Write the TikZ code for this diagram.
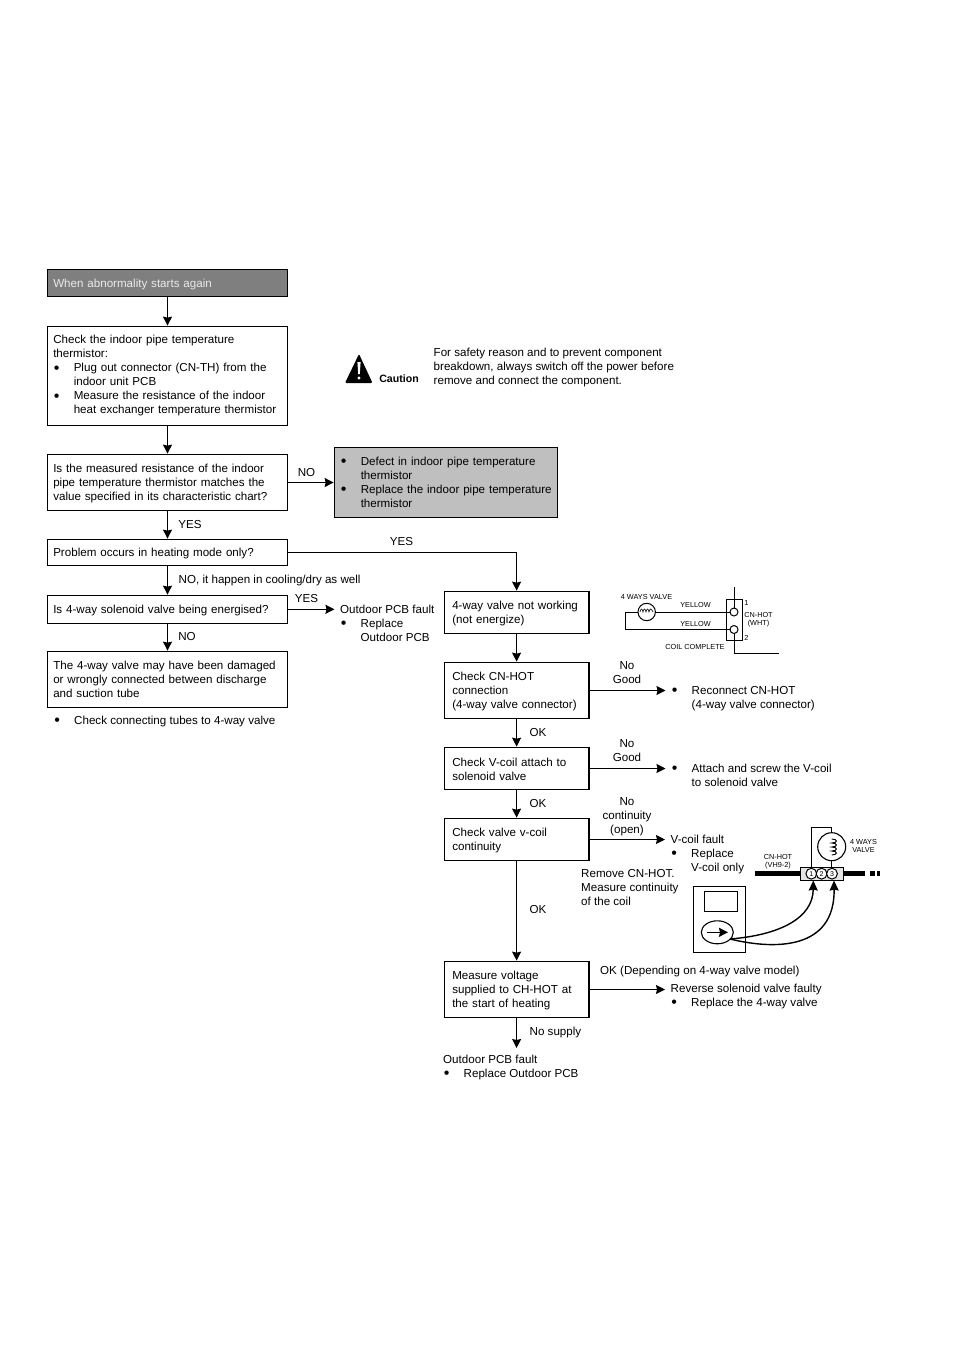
\documentclass[tikz,border=0pt]{standalone}
\usepackage{fontspec}
\setmainfont{Liberation Sans}
\usetikzlibrary{arrows.meta}
\newcommand{\mainf}{\fontsize{11.6}{14}\selectfont}
\newcommand{\bl}{\makebox[20.5pt][l]{\hspace*{0.6pt}\smash{\raisebox{-1.2pt}{\fontsize{16}{14}\selectfont\textbullet}}}}
\newcommand{\ind}{\hspace*{20.5pt}}
\newcommand{\su}{\rule{0pt}{10.4pt}}
\def\bxsep{6}
\newcommand{\bx}[7]{%
  \pgfmathsetlengthmacro{\bxw}{#4-#2-0.5}%
  \pgfmathsetlengthmacro{\bxh}{#5-#3-0.5}%
  \pgfmathsetlengthmacro{\bxt}{#4-#2-0.5-2*\bxsep}%
  \pgfmathsetmacro{\bxcx}{(#2+#4)/2}%
  \pgfmathsetmacro{\bxcy}{(#3+#5)/2}%
  \node[#6,minimum width=\bxw,minimum height=\bxh,inner xsep=\bxsep pt,text width=\bxt] (#1) at (\bxcx,\bxcy) {#7};}
\tikzset{
  fbox/.style={draw=black,line width=1.2pt,align=left,inner ysep=0pt,font=\mainf,fill=white},
  darkbox/.style={fbox,fill=graydark,text=white!92!black},
  lightbox/.style={fbox,fill=graylight},
  note/.style={inner sep=0pt,align=left,anchor=west,font=\mainf},
  lbl/.style={inner sep=0pt,align=center,font=\mainf},
  arr/.style={line width=1.2pt,-{Stealth[length=9pt,width=9pt,inset=1pt]}},
  arrn/.style={arr,shorten >=5.5pt},
  wire/.style={line width=1pt},
  tiny/.style={inner sep=0pt,align=center,font=\fontsize{7.3}{8}\selectfont},
}
\definecolor{graydark}{HTML}{7F7F7F}
\definecolor{graylight}{HTML}{BFBFBF}
\begin{document}
\begin{tikzpicture}[x=1pt,y=-1pt]
\useasboundingbox (0,0) rectangle (954,1350);
\bx{a0}{47}{269}{288}{297}{darkbox}{\su When abnormality starts again}
\bx{a1}{47}{326}{288}{426}{fbox}{Check the indoor pipe temperature\\thermistor:\\\bl Plug out connector (CN-TH) from the\\\ind indoor unit PCB\\\bl Measure the resistance of the indoor\\\ind heat exchanger temperature thermistor\rule[-2.6pt]{0pt}{0pt}}
\bx{a2}{47}{454}{288}{511}{fbox}{\su Is the measured resistance of the indoor\\pipe temperature thermistor matches the\\value specified in its characteristic chart?}
\bx{a3}{334}{447}{558}{518}{lightbox}{\bl Defect in indoor pipe temperature\\\ind thermistor\\\bl Replace the indoor pipe temperature\\\ind thermistor}
\bx{a4}{47}{539}{288}{566}{fbox}{\su Problem occurs in heating mode only?}
\bx{a5}{47}{595}{288}{623.6}{fbox}{\su Is 4-way solenoid valve being energised?}
\bx{a6}{47}{651}{288}{708}{fbox}{The 4-way valve may have been damaged\\or wrongly connected between discharge\\and suction tube}
\def\bxsep{8}
\bx{r1}{444}{591}{589.2}{634}{fbox}{\su 4-way valve not working\\(not energize)}
\bx{r2}{444}{662}{589.2}{719}{fbox}{\su Check CN-HOT\\connection\\(4-way valve connector)}
\bx{r3}{444}{747}{589.2}{790}{fbox}{\su Check V-coil attach to\\solenoid valve}
\bx{r4}{444}{818}{589.2}{861}{fbox}{\su Check valve v-coil\\continuity}
\bx{r5}{444}{961}{589.2}{1018}{fbox}{\su Measure voltage\\supplied to CH-HOT at\\the start of heating}

\node[note] (n0) at (433.5,367) {For safety reason and to prevent component\\breakdown, always switch off the power before\\remove and connect the component.};
\node[note] (n1) at (53.5,721) {\bl Check connecting tubes to 4-way valve};
\node[note] (t1) at (340,623) {Outdoor PCB fault\\\bl Replace\\\ind Outdoor PCB};
\node[note] (t2) at (671,698.5) {\bl Reconnect CN-HOT\\\ind (4-way valve connector)};
\node[note] (t3) at (671,775) {\bl Attach and screw the V-coil\\\ind to solenoid valve};
\node[note] (t4) at (670.5,854) {V-coil fault\\\bl Replace\\\ind V-coil only};
\node[note] (t5) at (670.5,996) {Reverse solenoid valve faulty\\\bl Replace the 4-way valve};
\node[note,anchor=north west] (t6) at (443,1055) {Outdoor PCB fault\\\bl Replace Outdoor PCB};
\node[note] (t7) at (581,887) {Remove CN-HOT.\\Measure continuity\\of the coil};

\draw[arr] (a0) -- (a1);
\draw[arr] (a1) -- (a2);
\draw[arr] (a2) -- (a3);
\draw[arr] (a2) -- (a4);
\draw[arr] (a4) -- (a5);
\draw[arr] (a5) -- (a6);
\draw[arr] (a4.east) -| (r1.north);
\draw[arr] (r1) -- (r2);
\draw[arr] (r2) -- (r3);
\draw[arr] (r3) -- (r4);
\draw[arr] (r4) -- (r5);
\draw[arrn] (a5.east) -- (a5.east -| t1.west);
\draw[arrn] (r2.east) -- (r2.east -| t2.west);
\draw[arrn] (r3.east) -- (r3.east -| t3.west);
\draw[arrn] (r4.east) -- (r4.east -| t4.west);
\draw[arrn] (r5.east) -- (r5.east -| t5.west);
\draw[arr,shorten >=7pt] (r5.south) -- (r5.south |- t6.north);

\node[lbl] (l1) at (190,524) {YES};
\node[lbl] (l2) at (306.5,472) {NO};
\node[lbl,anchor=west] (l3) at (178.5,580) {NO, it happen in cooling/dry as well};
\node[lbl] (l4) at (401.5,541.5) {YES};
\node[lbl] (l5) at (306.5,598) {YES};
\node[lbl] (l6) at (187,636) {NO};
\node[lbl] (l7) at (627,673) {No\\Good};
\node[lbl] (l8) at (538,732) {OK};
\node[lbl] (l9) at (627,751) {No\\Good};
\node[lbl] (l10) at (538,803) {OK};
\node[lbl] (l11) at (627,816.5) {No\\continuity\\(open)};
\node[lbl] (l12) at (538,909) {OK};
\node[lbl,anchor=west] (l13) at (600,971.5) {OK (Depending on 4-way valve model)};
\node[lbl,anchor=west] (l14) at (529.5,1032) {No supply};

% Caution sign
\fill[black,rounded corners=1.2pt] (359,354) -- (372.5,383) -- (345,383) -- cycle;
\fill[white] (357.4,362) -- (360.6,362) -- (359.8,374) -- (358.2,374) -- cycle;
\fill[white] (359,378) circle (1.7);
\node[inner sep=0pt,font=\bfseries\fontsize{10.6}{12}\selectfont] (cau) at (399,379) {Caution};

% 4 ways valve wiring
\draw[wire] (646.7,612) circle (8.7);
\draw[wire] (734,612) circle (4);
\draw[wire] (734,629.5) circle (4);
\draw[wire] (726.7,599.3) rectangle (742.7,640.7);
\draw[wire] (638,612) -- (625,612) -- (625,629.5) -- (730,629.5);
\draw[wire] (655.4,612) -- (730,612);
\draw[wire] (734,587) -- (734,608);
\draw[wire] (734,633.5) -- (734,653) -- (779,653);
\draw[line width=0.6pt] (640,612) .. controls (641,608) and (642,608) .. (643,612) .. controls (644,608) and (645,608) .. (646,612) .. controls (647,608) and (648,608) .. (649,612) .. controls (650,608) and (651,608) .. (653,612);
\node[tiny] (w1) at (646.5,597) {4 WAYS VALVE};
\node[tiny] (w2) at (695.5,605) {YELLOW};
\node[tiny] (w3) at (695.5,624) {YELLOW};
\node[tiny] (w4) at (746.5,603) {1};
\node[tiny] (w5) at (746.5,638) {2};
\node[tiny] (w6) at (758.5,620) {CN-HOT\\(WHT)};
\node[tiny] (w7) at (695,646.5) {COIL COMPLETE};

% meter and V-coil
\draw[wire] (693.3,886) rectangle (745.7,952.3);
\draw[wire] (704,891.7) rectangle (737.3,911.7);
\draw[line width=1.1pt] (717.3,932.3) ellipse (16 and 11.5);
\draw[line width=1.5pt,-{Stealth[length=9pt,width=9pt,inset=1pt]}] (707,932.3) -- (728,932.3);
\fill[black] (755,871.2) rectangle (800,876.2);
\fill[black] (843,871.2) rectangle (865,876.2);
\fill[black] (870,871.2) rectangle (875,876.2);
\fill[black] (877,871.2) rectangle (880,876.2);
\draw[wire,fill=black!10] (800,867.3) rectangle (843.3,880);
\draw[wire] (811.3,868) -- (811.3,827.7) -- (831.7,827.7) -- (831.7,832.7);
\draw[wire] (831.7,860.7) -- (831.7,868);
\draw[line width=1.1pt] (831.7,846.7) circle (14);
\draw[line width=0.9pt] (831.7,839) .. controls (838,839) and (838,843) .. (831.7,843) .. controls (838,843) and (838,847) .. (831.7,847) .. controls (838,847) and (838,851) .. (831.7,851) .. controls (838,851) and (838,855) .. (831.7,855);
\draw[wire,fill=white] (811.3,873.7) circle (5.4);
\draw[wire,fill=white] (821.6,873.7) circle (5.4);
\draw[wire,fill=white] (832,873.7) circle (5.4);
\node[tiny,font=\fontsize{7}{8}\selectfont] (k1) at (811.3,873.7) {1};
\node[tiny,font=\fontsize{7}{8}\selectfont] (k2) at (821.6,873.7) {2};
\node[tiny,font=\fontsize{7}{8}\selectfont] (k3) at (832,873.7) {3};
\node[tiny] (k4) at (778,861.5) {CN-HOT\\(VH9-2)};
\node[tiny] (k5) at (863.5,846) {4 WAYS\\VALVE};
\draw[line width=1.4pt,-{Stealth[length=10pt,width=9pt,inset=1pt]}] (730,939) .. controls (780,935) and (813,918) .. (813.3,880.5);
\draw[line width=1.4pt,-{Stealth[length=10pt,width=9pt,inset=1pt]}] (730,939) .. controls (775,950) and (835,950) .. (834,880.5);
\end{tikzpicture}
\end{document}
